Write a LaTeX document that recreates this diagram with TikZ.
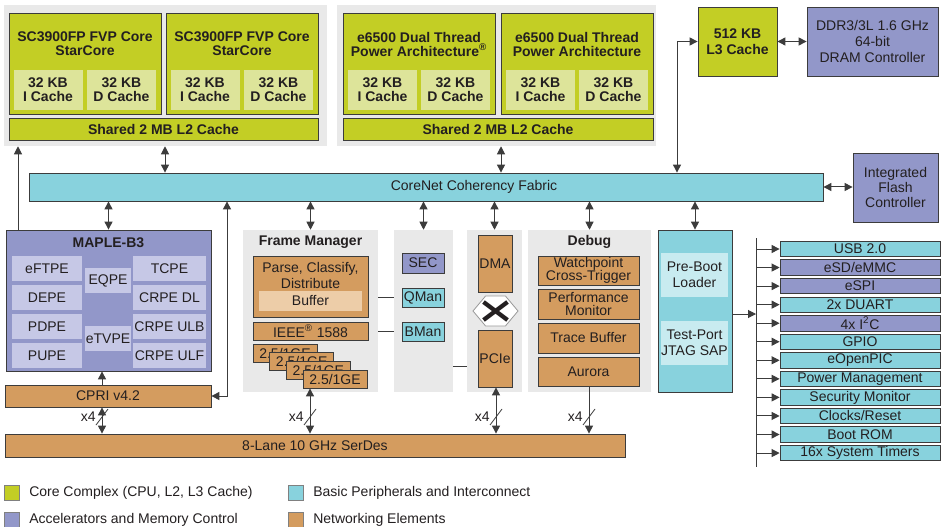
\documentclass[tikz,border=0pt]{standalone}
\usepackage{fontspec}
\setmainfont{Liberation Sans}
\usetikzlibrary{calc,arrows.meta,shapes.symbols}

\definecolor{coreg}{HTML}{C3CE25}
\definecolor{corelt}{HTML}{DDE49A}
\definecolor{bggray}{HTML}{E9E9E9}
\definecolor{accel}{HTML}{9297C9}
\definecolor{accellt}{HTML}{C6C8E6}
\definecolor{periph}{HTML}{88D2DD}
\definecolor{periphlt}{HTML}{C8EBF0}
\definecolor{netw}{HTML}{D49C5F}
\definecolor{netwlt}{HTML}{EDCDA8}
\definecolor{linec}{HTML}{3C3C3C}
\definecolor{ink}{HTML}{231F20}

\newlength\pxu
\setlength\pxu{0.75pt}

\tikzset{
  every node/.style={inner sep=0pt,align=center,text=ink,font=\fontsize{10.5}{10.5}\selectfont},
  hdr/.style={font=\fontsize{10.5}{10.5}\selectfont\bfseries},
  sz/.style 2 args={minimum width=#1\pxu,minimum height=#2\pxu},
  blk/.style={draw=linec,line width=0.6pt},
  graybg/.style={fill=bggray},
  corebox/.style={blk,fill=coreg},
  coresub/.style={fill=corelt},
  accelbox/.style={blk,fill=accel},
  accelsub/.style={fill=accellt},
  perbox/.style={blk,fill=periph},
  persub/.style={fill=periphlt},
  netbox/.style={blk,fill=netw},
  netsub/.style={fill=netwlt},
  conn/.style={draw=linec,line width=0.75pt},
  arr/.style={conn,-{Triangle[length=6pt,width=6pt]}},
  dbl/.style={conn,{Triangle[length=6pt,width=6pt]}-{Triangle[length=6pt,width=6pt]}},
  legbox/.style={draw=gray,line width=0.5pt,sz={15}{15}}
}

\begin{document}
\begin{tikzpicture}[x=0.75pt,y=-0.75pt]
\useasboundingbox (0,0) rectangle (941,527);
\fill[white] (0,0) rectangle (941,527);

% core complexes
\node[graybg,sz={323}{141}] (bgA) at (165.5,75.5) {};
\node[graybg,sz={319}{141}] (bgB) at (496.5,75.5) {};
\node[corebox,sz={152}{101}] (scA) at (85,63.5) {};
\node[corebox,sz={152}{101}] (scB) at (242,63.5) {};
\node[corebox,sz={152}{101}] (ppA) at (419,63.5) {};
\node[corebox,sz={152}{101}] (ppB) at (577,63.5) {};
\node[hdr] (scAt) at (85,44) {SC3900FP FVP Core\\StarCore};
\node[hdr] (scBt) at (242,44) {SC3900FP FVP Core\\StarCore};
\node[hdr] (ppAt) at (419,44) {e6500 Dual Thread\\Power Architecture\textsuperscript{\textregistered}};
\node[hdr] (ppBt) at (577,44) {e6500 Dual Thread\\Power Architecture};
\foreach \nm/\x/\kind in {scAi/48/I,scAd/121.5/D,scBi/205/I,scBd/278.5/D,ppAi/382.5/I,ppAd/455.5/D,ppBi/540.5/I,ppBd/613.5/D}
  \node[coresub,hdr,sz={69}{40}] (\nm) at (\x,90) {32 KB\\\kind\ Cache};
\node[corebox,hdr,sz={309}{22}] (l2A) at (163.5,129) {Shared 2 MB L2 Cache};
\node[corebox,hdr,sz={310}{22}] (l2B) at (498,129) {Shared 2 MB L2 Cache};
\node[corebox,font=\fontsize{10.5}{12}\selectfont\bfseries,sz={79}{69}] (l3) at (737.5,41.5) {512 KB\\L3 Cache};
\node[accelbox,font=\fontsize{10.5}{12}\selectfont,sz={131}{69}] (dram) at (872.5,41.5) {DDR3/3L 1.6 GHz\\64-bit\\DRAM Controller};

% fabric
\node[perbox,sz={794}{28}] (corenet) at (426,187) {};
\node (corenett) at (474,187) {CoreNet Coherency Fabric};
\node[accelbox,font=\fontsize{10.5}{11.5}\selectfont,sz={85}{69}] (ifc) at (895.5,187.5) {Integrated\\Flash\\Controller};

% MAPLE
\node[accelbox,sz={205}{141}] (maple) at (108.5,300.5) {};
\node[hdr] (maplet) at (108.5,243) {MAPLE-B3};
\foreach \nm/\x/\y/\w/\txt in {eftpe/47/268.5/70/eFTPE, depe/47/297.5/70/DEPE, pdpe/47/326.5/70/PDPE, pupe/47/355.5/70/PUPE,
    eqpe/108/280.5/46/EQPE, etvpe/108/338.5/46/eTVPE,
    tcpe/169.5/268.5/73/TCPE, crpedl/169.5/297.5/73/CRPE DL, crpeulb/169.5/326.5/73/CRPE ULB, crpeulf/169.5/355.5/73/CRPE ULF}
  \node[accelsub,sz={\w}{25}] (\nm) at (\x,\y) {\txt};
\node[netbox,sz={206}{22}] (cpri) at (108,396) {CPRI v4.2};
\node[netbox,sz={620}{23}] (serdes) at (315,445.5) {8-Lane 10 GHz SerDes};

% frame manager
\node[graybg,sz={135}{162}] (fmbg) at (310.5,311) {};
\node[hdr] (fmt) at (310.5,242) {Frame Manager};
\node[netbox,sz={115}{61}] (parse) at (310.5,286.5) {};
\node[font=\fontsize{10.5}{12}\selectfont] (parset) at (310.5,275) {Parse, Classify,\\Distribute};
\node[netsub,sz={103}{20}] (buffer) at (310.5,301) {Buffer};
\node[netbox,sz={115}{18}] (ieee) at (310.5,331) {IEEE\textsuperscript{\textregistered} 1588};
\foreach \i in {0,...,3}
  \node[netbox,sz={64}{18}] (ge\i) at ({285+16.67*\i},{353+8.67*\i}) {2.5/1GE};

% queue manager
\node[graybg,sz={59}{162}] (qbg) at (423.5,311) {};
\node[accelbox,sz={42}{20}] (sec) at (423,263) {SEC};
\node[perbox,sz={42}{19}] (qman) at (423,297.5) {QMan};
\node[perbox,sz={42}{19}] (bman) at (423,331.5) {BMan};

% dma / pcie
\node[graybg,sz={55}{162}] (dbg) at (494.5,311) {};
\node[netbox,sz={34}{57}] (dma) at (495,263.5) {DMA};
\node[signal,signal to=west and east,signal pointer angle=100,draw=gray!80,fill=white,line width=0.6pt,sz={45}{30}] (xbar) at (495.5,311) {};
\draw[ink,line width=3.2pt] ($(xbar.center)+(-12,-9)$) -- ($(xbar.center)+(12,9)$);
\draw[ink,line width=3.2pt] ($(xbar.center)+(-12,9)$) -- ($(xbar.center)+(12,-9)$);
\node[netbox,sz={34}{57}] (pcie) at (495,358.5) {PCIe};

% debug
\node[graybg,sz={123}{162}] (debug) at (589.5,311) {};
\node[hdr] (debugt) at (589.5,242) {Debug};
\node[netbox,font=\fontsize{10.5}{10}\selectfont,sz={101}{29}] (watch) at (588.5,270.5) {Watchpoint\\Cross-Trigger};
\node[netbox,font=\fontsize{10.5}{10}\selectfont,sz={101}{30}] (perf) at (588.5,304) {Performance\\Monitor};
\node[netbox,sz={101}{30}] (trace) at (588.5,338) {Trace Buffer};
\node[netbox,sz={101}{29}] (aurora) at (588.5,371.5) {Aurora};

% boot
\node[perbox,sz={74}{162}] (boot) at (695,311) {};
\node[persub,font=\fontsize{10.5}{12}\selectfont,sz={67}{44}] (pbl) at (694.5,275) {Pre-Boot\\Loader};
\node[persub,font=\fontsize{10.5}{12}\selectfont,sz={67}{44}] (jtag) at (694.5,343) {Test-Port\\JTAG SAP};

% peripherals
\coordinate (bust) at (756,238);
\coordinate (busb) at (756,467);
\draw[conn] (bust) -- (busb);
\foreach \clr/\txt [count=\i from 0] in {periph/USB 2.0,accel/{eSD/eMMC},accel/eSPI,periph/2x DUART,accel/4x I\textsuperscript{2}C,periph/GPIO,periph/eOpenPIC,periph/Power Management,periph/Security Monitor,periph/{Clocks/Reset},periph/Boot ROM,periph/16x System Timers}
{
  \node[blk,fill=\clr,sz={160}{15.5}] (per\i) at (860,{249+18.55*\i}) {\txt};
  \draw[arr] (bust |- per\i.west) -- (per\i.west);
}

% connectors
\coordinate (ta) at (165,0);
\coordinate (tb) at (501,0);
\coordinate (lx) at (677,0);
\coordinate (mx) at (18,0);
\coordinate (cx) at (227,0);
\coordinate (py) at (0,366);
\coordinate (pby) at (0,314);
\draw[dbl] (bgA.south -| ta) -- (corenet.north -| ta);
\draw[dbl] (bgB.south -| tb) -- (corenet.north -| tb);
\draw[dbl] (corenet.north -| lx) |- (l3.west);
\draw[dbl] (l3.east) -- (dram.west);
\draw[dbl] (corenet.east) -- (ifc.west |- corenet.east);
\foreach \nm in {maple,fmbg,qbg,dbg,debug,boot}
  \draw[dbl] (corenet.south -| \nm.north) -- (\nm.north);
\draw[arr] (maple.north -| mx) -- (bgA.south -| mx);
\draw[dbl] (corenet.south -| cx) |- (cpri.east);
\draw[conn] (fmbg.east |- qman) -- (qbg.west |- qman);
\draw[conn] (fmbg.east |- bman) -- (qbg.west |- bman);
\draw[conn] (qbg.east |- py) -- (dbg.west |- py);
\draw[arr] (boot.east |- pby) -- (bust |- pby);

% serdes lanes
\foreach \nm/\x in {la/102,lb/310,lc/496,ld/589}
{
  \coordinate (\nm) at (\x,417);
  \draw[conn,line width=0.6pt] ($(\nm)+(-6,8)$) -- ($(\nm)+(6,-8)$);
  \node[anchor=east] (\nm-x4) at ($(\nm)+(-6,0)$) {x4};
}
\draw[arr] (cpri.north -| la) -- (maple.south -| la);
\draw[dbl] (serdes.north -| la) -- (cpri.south -| la);
\draw[dbl] (serdes.north -| lb) -- (ge3.south -| lb);
\draw[dbl] (serdes.north -| lc) -- (pcie.south -| lc);
\draw[arr] (aurora.south -| ld) -- (serdes.north -| ld);

% legend
\node[legbox,fill=coreg] (lg1) at (11.5,493) {};
\node[anchor=west] (lg1t) at (29,493) {Core Complex (CPU, L2, L3 Cache)};
\node[legbox,fill=periph] (lg2) at (295.5,493) {};
\node[anchor=west] (lg2t) at (313,493) {Basic Peripherals and Interconnect};
\node[legbox,fill=accel] (lg3) at (11.5,520) {};
\node[anchor=west] (lg3t) at (29,520) {Accelerators and Memory Control};
\node[legbox,fill=netw] (lg4) at (295.5,520) {};
\node[anchor=west] (lg4t) at (313,520) {Networking Elements};
\end{tikzpicture}
\end{document}
